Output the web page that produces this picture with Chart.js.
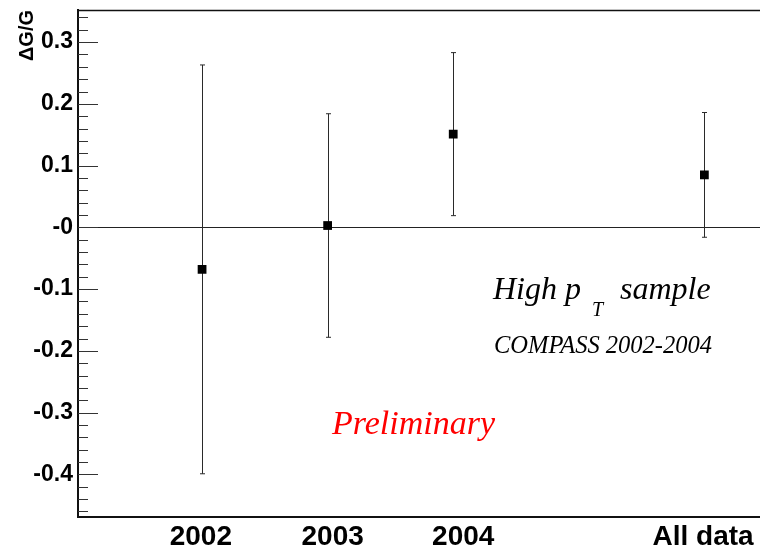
<!DOCTYPE html>
<html>
<head>
<meta charset="utf-8">
<script src="https://cdn.jsdelivr.net/npm/chart.js@4/dist/chart.umd.min.js"></script>
<style>
  html, body { margin: 0; padding: 0; background: #fff; }
  #wrap { width: 760px; height: 550px; }
</style>
</head>
<body>
<div id="wrap"><canvas id="chart" width="760" height="550"></canvas></div>
<script>
// Data
const categories = ['2002', '2003', '2004', 'All data'];
const xPos = [1, 2, 3, 5];
const labelPos = [0.99, 2.04, 3.08, 4.99];
const dgg = [-0.068, 0.003, 0.151, 0.085];
const dggErr = [0.331, 0.181, 0.132, 0.101];
const yTicks = [-0.4, -0.3, -0.2, -0.1, 0, 0.1, 0.2, 0.3];
const yMin = -0.469;
const yMax = 0.352;
const minorStep = 0.02;

const axisColor = '#111';
const sans = '"Liberation Sans", Arial, Helvetica, sans-serif';
const serif = '"Liberation Serif", "Times New Roman", Times, serif';

function line(ctx, x1, y1, x2, y2) {
  ctx.beginPath();
  ctx.moveTo(x1, y1);
  ctx.lineTo(x2, y2);
  ctx.stroke();
}

// drop the extra room chart.js keeps for edge labels
function noPadding(scale) {
  scale.paddingLeft = 0;
  scale.paddingRight = 0;
  scale.paddingTop = 0;
  scale.paddingBottom = 0;
}

// ROOT style extras: inward ticks, zero line, error bars, frame, labels
const rootStyle = {
  id: 'rootStyle',
  beforeDatasetsDraw(chart) {
    const { ctx, chartArea: a, scales: { x, y } } = chart;
    ctx.save();

    // top frame line
    ctx.strokeStyle = axisColor;
    ctx.lineWidth = 1.5;
    line(ctx, a.left, a.top + 0.5, a.right, a.top + 0.5);

    // zero line
    ctx.lineWidth = 1;
    ctx.strokeStyle = '#222';
    const y0 = Math.round(y.getPixelForValue(0)) + 0.5;
    line(ctx, a.left, y0, a.right, y0);

    // inward ticks on the y axis
    ctx.strokeStyle = '#333';
    const nMin = Math.ceil(yMin / minorStep);
    const nMax = Math.floor(yMax / minorStep);
    for (let n = nMin; n <= nMax; n++) {
      const py = Math.round(y.getPixelForValue(n * minorStep)) + 0.5;
      const len = n % 5 === 0 ? 20 : 10;
      line(ctx, a.left, py, a.left + len, py);
    }

    // error bars
    ctx.strokeStyle = '#2a2a2a';
    dgg.forEach((v, i) => {
      const px = Math.round(x.getPixelForValue(xPos[i])) + 0.5;
      const top = y.getPixelForValue(v + dggErr[i]);
      const bot = y.getPixelForValue(v - dggErr[i]);
      line(ctx, px, top, px, bot);
      line(ctx, px - 2.5, top, px + 2.5, top);
      line(ctx, px - 2.5, bot, px + 2.5, bot);
    });
    ctx.restore();
  },
  afterDraw(chart) {
    const { ctx } = chart;
    ctx.save();
    ctx.fillStyle = '#000';

    // y axis title
    ctx.save();
    ctx.translate(33, 10);
    ctx.rotate(-Math.PI / 2);
    ctx.font = 'bold 20px ' + sans;
    ctx.textAlign = 'right';
    ctx.textBaseline = 'alphabetic';
    ctx.fillText('\u0394G/G', 0, 0);
    ctx.restore();

    ctx.textAlign = 'left';
    ctx.textBaseline = 'alphabetic';
    ctx.font = 'italic 32px ' + serif;
    ctx.fillText('High p', 493, 299);
    ctx.fillText('sample', 620, 299);
    ctx.font = 'italic 20px ' + serif;
    ctx.fillText('T', 592, 316);

    ctx.font = 'italic 24.5px ' + serif;
    ctx.fillText('COMPASS 2002-2004', 494, 353);

    ctx.fillStyle = '#ff0000';
    ctx.font = 'italic 34px ' + serif;
    ctx.fillText('Preliminary', 332, 434);
    ctx.restore();
  }
};

new Chart(document.getElementById('chart'), {
  type: 'scatter',
  data: {
    datasets: [{
      data: dgg.map((v, i) => ({ x: xPos[i], y: v })),
      pointStyle: 'rect',
      pointRadius: 6.2,
      backgroundColor: '#000',
      borderColor: '#000',
      borderWidth: 0,
    }],
  },
  options: {
    responsive: false,
    animation: false,
    layout: { autoPadding: false, padding: { top: 10, right: 0, left: 0, bottom: 0 } },
    plugins: {
      legend: { display: false },
      tooltip: { enabled: false },
    },
    scales: {
      x: {
        type: 'linear',
        min: 0.012,
        max: 5.443,
        grid: { display: false, drawTicks: false },
        border: { display: true, color: axisColor, width: 2 },
        afterBuildTicks: (scale) => {
          scale.ticks = labelPos.map(v => ({ value: v }));
        },
        afterFit: (scale) => { scale.height = 33; noPadding(scale); },
        ticks: {
          autoSkip: false,
          maxRotation: 0,
          padding: 3,
          color: '#000',
          font: { family: sans, size: 28, weight: 'bold' },
          callback: (v, i) => categories[i],
        },
      },
      y: {
        min: yMin,
        max: yMax,
        grid: { display: false, drawTicks: false },
        border: { display: true, color: axisColor, width: 2 },
        afterBuildTicks: (scale) => {
          scale.ticks = yTicks.map(v => ({ value: v }));
        },
        afterFit: (scale) => { scale.width = 78; noPadding(scale); },
        ticks: {
          padding: 5,
          color: '#000',
          font: { family: sans, size: 23, weight: 'bold' },
          callback: (v) => Math.abs(v) < 1e-9 ? '-0' : v.toFixed(1),
        },
      },
    },
  },
  plugins: [rootStyle],
});
</script>
</body>
</html>
